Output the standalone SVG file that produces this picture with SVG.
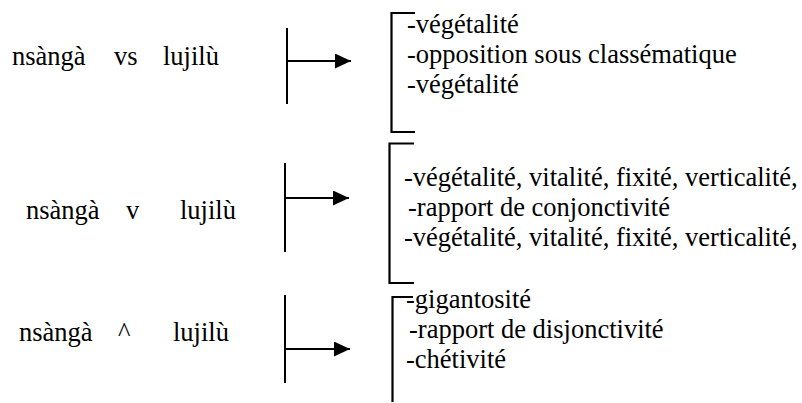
<svg xmlns="http://www.w3.org/2000/svg" width="802" height="403" viewBox="0 0 802 403">
  <style>
    .t { font-family: "Liberation Serif", "DejaVu Serif", serif; font-size: 26.5px; fill: #000; }
    .bar { stroke: #000; stroke-width: 2; fill: none; }
    .bracket { stroke: #000; stroke-width: 2.2; fill: none; }
    .link { stroke: #000; stroke-width: 2; fill: none; marker-end: url(#head); }
  </style>
  <defs>
    <marker id="head" markerUnits="userSpaceOnUse" markerWidth="17" markerHeight="15" refX="16" refY="7.5" orient="auto">
      <path d="M0,0 L16,7.5 L0,15 Z" fill="#000"/>
    </marker>
  </defs>

  <!-- left-hand pairs -->
  <g id="pair-vs" class="t">
    <text x="12" y="65">nsàngà</text>
    <text x="114" y="65">vs</text>
    <text x="163" y="65">lujilù</text>
  </g>
  <g id="pair-v" class="t">
    <text x="26" y="219">nsàngà</text>
    <text x="126" y="219">v</text>
    <text x="180" y="219">lujilù</text>
  </g>
  <g id="pair-and" class="t">
    <text x="19" y="341">nsàngà</text>
    <text x="118" y="341">^</text>
    <text x="173" y="341">lujilù</text>
  </g>

  <!-- T-shaped arrows -->
  <g id="connectors">
    <line class="bar" x1="287" y1="28" x2="287" y2="104"/>
    <line class="link" x1="287" y1="61" x2="351" y2="61"/>
    <line class="bar" x1="285" y1="163" x2="285" y2="252"/>
    <line class="link" x1="285" y1="198" x2="349" y2="198"/>
    <line class="bar" x1="285" y1="295" x2="285" y2="383"/>
    <line class="link" x1="285" y1="349" x2="350" y2="349"/>
  </g>

  <!-- bracketed feature lists -->
  <g id="features-vs" class="t">
    <path class="bracket" d="M415,13 H391.5 V132 H415"/>
    <text x="407" y="33">-végétalité</text>
    <text x="407" y="63">-opposition sous classématique</text>
    <text x="407" y="93">-végétalité</text>
  </g>
  <g id="features-v" class="t">
    <path class="bracket" d="M414,143.5 H389.5 V283 H414"/>
    <text x="404" y="186">-végétalité, vitalité, fixité, verticalité,</text>
    <text x="408" y="216">-rapport de conjonctivité</text>
    <text x="404" y="246">-végétalité, vitalité, fixité, verticalité,</text>
  </g>
  <g id="features-and" class="t">
    <path class="bracket" d="M413,297 H392.5 V402"/>
    <text x="406" y="308">-gigantosité</text>
    <text x="409" y="338">-rapport de disjonctivité</text>
    <text x="406" y="368">-chétivité</text>
  </g>
</svg>
